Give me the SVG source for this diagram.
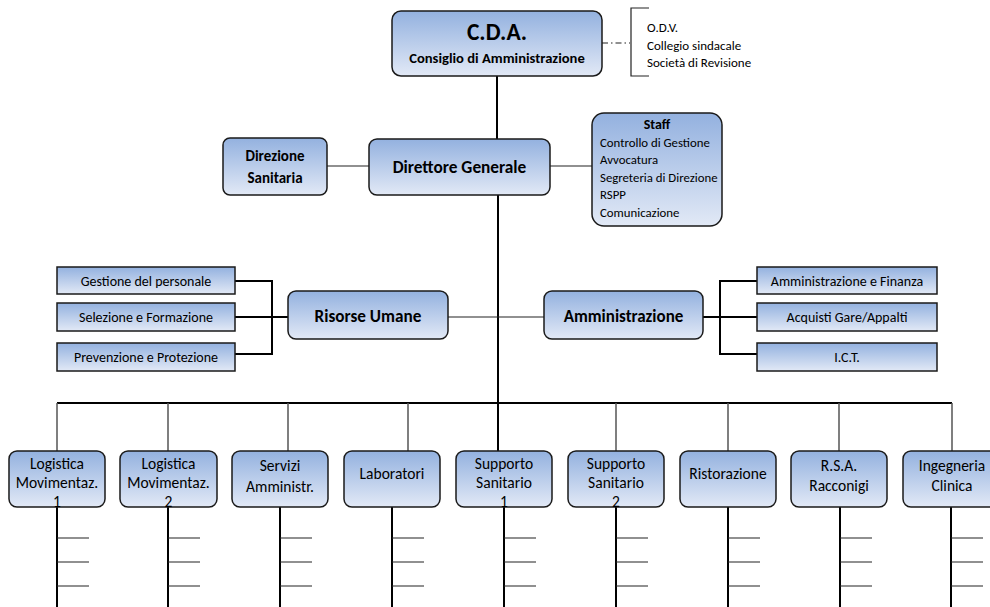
<svg xmlns="http://www.w3.org/2000/svg" width="990" height="607" viewBox="0 0 990 607">
<defs>
<linearGradient id="g" x1="0" y1="0" x2="0" y2="1">
<stop offset="0" stop-color="#93b1df"/>
<stop offset="1" stop-color="#e2e9f6"/>
</linearGradient>
<style>
.n{fill:url(#g);stroke:#1a1a1a;stroke-width:1.5}
.t{font-family:Carlito,Lato,"Liberation Sans",sans-serif;fill:#000;text-anchor:middle}
.b{font-weight:bold}
.l{font-family:Carlito,Lato,"Liberation Sans",sans-serif;fill:#000}
.k{stroke:#000;stroke-width:2;fill:none}
.h{stroke:#222;stroke-width:1.2;fill:none}
.d{stroke:#555;stroke-width:1.5;fill:none}
.s{font-size:15.5px}
.m{font-size:14px}
</style>
</defs>
<rect width="990" height="607" fill="#fff"/>
<g id="connectors">
<line class="k" x1="497" y1="76" x2="497" y2="139"/>
<line class="h" x1="602" y1="43" x2="630" y2="43" stroke-dasharray="6,3,1.5,3"/>
<path class="h" d="M649,8 H631 V76 H649"/>
<line class="h" x1="327" y1="166" x2="369" y2="166"/>
<line class="h" x1="550" y1="166" x2="592" y2="166"/>
<line class="k" x1="498" y1="195" x2="498" y2="453"/>
<path class="k" d="M235,281 H272 V354 H235 M235,317 H288"/>
<line class="h" x1="448" y1="317" x2="544" y2="317"/>
<path class="k" d="M757,281 H720 V354 H757 M757,317 H703"/>
<line class="k" x1="57" y1="403" x2="952" y2="403"/>
<g class="d">
<line x1="57" y1="403" x2="57" y2="452"/>
<line x1="168" y1="403" x2="168" y2="452"/>
<line x1="288" y1="403" x2="288" y2="452"/>
<line x1="408" y1="403" x2="408" y2="452"/>
<line x1="616" y1="403" x2="616" y2="452"/>
<line x1="728" y1="403" x2="728" y2="452"/>
<line x1="839" y1="403" x2="839" y2="452"/>
<line x1="952" y1="403" x2="952" y2="452"/>
</g>
<g class="k">
<line x1="57" y1="507" x2="57" y2="607"/>
<line x1="168" y1="507" x2="168" y2="607"/>
<line x1="280" y1="507" x2="280" y2="607"/>
<line x1="392" y1="507" x2="392" y2="607"/>
<line x1="504" y1="507" x2="504" y2="607"/>
<line x1="616" y1="507" x2="616" y2="607"/>
<line x1="728" y1="507" x2="728" y2="607"/>
<line x1="840" y1="507" x2="840" y2="607"/>
<line x1="951" y1="507" x2="951" y2="607"/>
</g>
<g class="h" stroke-width="1.5">
<path d="M57,538 h32 M57,562 h32 M57,586 h32"/>
<path d="M168,538 h32 M168,562 h32 M168,586 h32"/>
<path d="M280,538 h32 M280,562 h32 M280,586 h32"/>
<path d="M392,538 h32 M392,562 h32 M392,586 h32"/>
<path d="M504,538 h32 M504,562 h32 M504,586 h32"/>
<path d="M616,538 h32 M616,562 h32 M616,586 h32"/>
<path d="M728,538 h32 M728,562 h32 M728,586 h32"/>
<path d="M840,538 h32 M840,562 h32 M840,586 h32"/>
<path d="M951,538 h32 M951,562 h32 M951,586 h32"/>
</g>
</g>
<g id="cda">
<rect class="n" x="392" y="11" width="210" height="65" rx="9"/>
<text class="t b" x="497" y="40" font-size="23.5">C.D.A.</text>
<text class="t b" x="497" y="63" font-size="14.6">Consiglio di Amministrazione</text>
</g>
<g id="controlli">
<text class="l" x="647" y="32" font-size="13">O.D.V.</text>
<text class="l" x="647" y="50" font-size="13">Collegio sindacale</text>
<text class="l" x="647" y="67" font-size="13">Società di Revisione</text>
</g>
<g id="direzione-sanitaria">
<rect class="n" x="223" y="138" width="104" height="57" rx="7"/>
<text class="t b" x="275" y="161" font-size="15">Direzione</text>
<text class="t b" x="275" y="183" font-size="15">Sanitaria</text>
</g>
<g id="direttore-generale">
<rect class="n" x="369" y="139" width="181" height="56" rx="8"/>
<text class="t b" x="459.5" y="173" font-size="17.3">Direttore Generale</text>
</g>
<g id="staff">
<rect class="n" x="592" y="113" width="130" height="113" rx="12"/>
<text class="t b" x="657" y="129" font-size="14">Staff</text>
<text class="l" x="600" y="147" font-size="12.8">Controllo di Gestione</text>
<text class="l" x="600" y="164" font-size="12.8">Avvocatura</text>
<text class="l" x="600" y="182" font-size="12.8">Segreteria di Direzione</text>
<text class="l" x="600" y="199" font-size="12.8">RSPP</text>
<text class="l" x="600" y="217" font-size="12.8">Comunicazione</text>
</g>
<g id="gestione-personale">
<rect class="n" x="57" y="267" width="178" height="27" stroke-width="1.2"/>
<text class="t m" x="146" y="285.5">Gestione del personale</text>
</g>
<g id="selezione-formazione">
<rect class="n" x="57" y="303" width="178" height="28" stroke-width="1.2"/>
<text class="t m" x="146" y="322">Selezione e Formazione</text>
</g>
<g id="prevenzione-protezione">
<rect class="n" x="57" y="343" width="178" height="28" stroke-width="1.2"/>
<text class="t m" x="146" y="362">Prevenzione e Protezione</text>
</g>
<g id="risorse-umane">
<rect class="n" x="288" y="291" width="160" height="48" rx="8"/>
<text class="t b" x="368" y="321.5" font-size="17.2">Risorse Umane</text>
</g>
<g id="amministrazione">
<rect class="n" x="544" y="291" width="159" height="48" rx="8"/>
<text class="t b" x="623.5" y="321.5" font-size="17">Amministrazione</text>
</g>
<g id="amministrazione-finanza">
<rect class="n" x="757" y="267" width="180" height="27" stroke-width="1.2"/>
<text class="t m" x="847" y="285.5">Amministrazione e Finanza</text>
</g>
<g id="acquisti">
<rect class="n" x="757" y="303" width="180" height="28" stroke-width="1.2"/>
<text class="t m" x="847" y="322">Acquisti Gare/Appalti</text>
</g>
<g id="ict">
<rect class="n" x="757" y="343" width="180" height="28" stroke-width="1.2"/>
<text class="t m" x="847" y="362">I.C.T.</text>
</g>
<g id="logistica-1">
<rect class="n" x="9" y="451" width="96" height="56" rx="8"/>
<text class="t s" x="57" y="469">Logistica</text>
<text class="t s" x="57" y="488">Movimentaz.</text>
<text class="t s" x="57" y="507">1</text>
</g>
<g id="logistica-2">
<rect class="n" x="120" y="451" width="97" height="56" rx="8"/>
<text class="t s" x="168.5" y="469">Logistica</text>
<text class="t s" x="168.5" y="488">Movimentaz.</text>
<text class="t s" x="168.5" y="507">2</text>
</g>
<g id="servizi-amministr">
<rect class="n" x="232" y="451" width="96" height="56" rx="8"/>
<text class="t s" x="280" y="471">Servizi</text>
<text class="t s" x="280" y="492">Amministr.</text>
</g>
<g id="laboratori">
<rect class="n" x="344" y="451" width="96" height="56" rx="8"/>
<text class="t s" x="392" y="479">Laboratori</text>
</g>
<g id="supporto-1">
<rect class="n" x="456" y="451" width="96" height="56" rx="8"/>
<text class="t s" x="504" y="469">Supporto</text>
<text class="t s" x="504" y="488">Sanitario</text>
<text class="t s" x="504" y="507">1</text>
</g>
<g id="supporto-2">
<rect class="n" x="568" y="451" width="96" height="56" rx="8"/>
<text class="t s" x="616" y="469">Supporto</text>
<text class="t s" x="616" y="488">Sanitario</text>
<text class="t s" x="616" y="507">2</text>
</g>
<g id="ristorazione">
<rect class="n" x="680" y="451" width="96" height="56" rx="8"/>
<text class="t s" x="728" y="479">Ristorazione</text>
</g>
<g id="rsa-racconigi">
<rect class="n" x="791" y="451" width="96" height="56" rx="8"/>
<text class="t s" x="839" y="471">R.S.A.</text>
<text class="t s" x="839" y="491">Racconigi</text>
</g>
<g id="ingegneria-clinica">
<rect class="n" x="903" y="451" width="96" height="56" rx="8"/>
<text class="t s" x="952" y="471">Ingegneria</text>
<text class="t s" x="952" y="491">Clinica</text>
</g>
</svg>
